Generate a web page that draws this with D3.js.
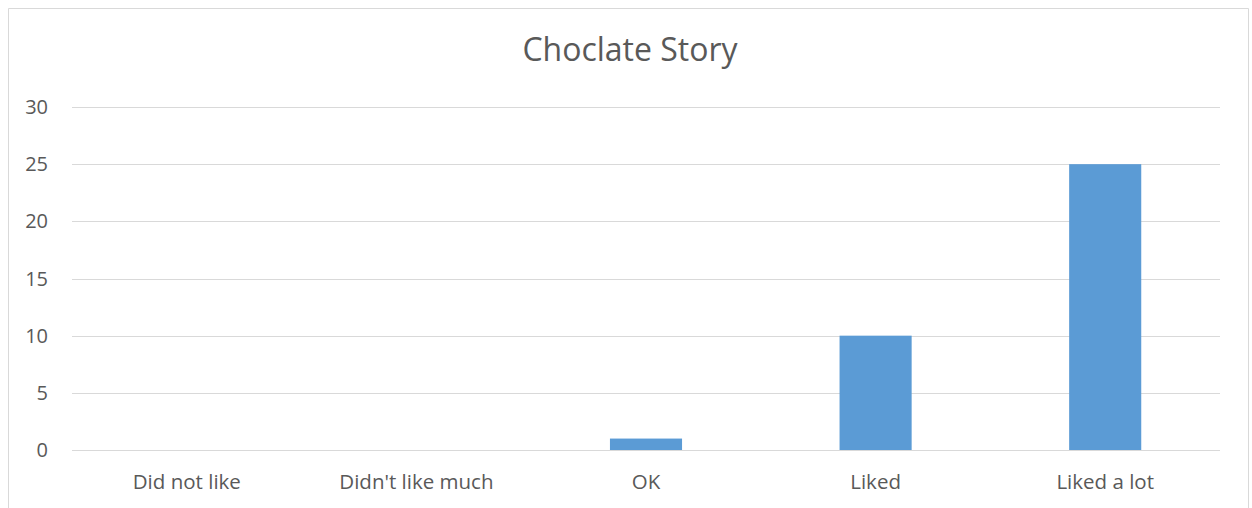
<!DOCTYPE html>
<html><head><meta charset="utf-8">
<script src="https://cdn.jsdelivr.net/npm/d3@7"></script>
<style>body{margin:0;background:#fff}svg{display:block}</style>
</head><body>
<svg id="c" width="1252" height="508"></svg>
<script>
const categories = ["Did not like", "Didn't like much", "OK", "Liked", "Liked a lot"];
const values = [0, 0, 1, 10, 25];
const yTicks = [0, 5, 10, 15, 20, 25, 30];
const title = "Choclate Story";

const svg = d3.select("#c");
const font = "'Open Sans', sans-serif";
const textColor = "#595959";
const margin = {left: 72, right: 1220, top: 107, bottom: 450};

// chart border
svg.append("path").attr("d", "M8.5,508 V8.5 H1248.5 V508")
  .attr("fill", "none").attr("stroke", "#d9d9d9").attr("stroke-width", 1);

const x = d3.scaleBand().domain(categories).range([margin.left, margin.right]).paddingInner(0.686).paddingOuter(0.343);
const y = d3.scaleLinear().domain([0, 30]).range([margin.bottom, margin.top]);

// grid
svg.append("g").selectAll("line").data(yTicks).join("line")
  .attr("x1", margin.left).attr("x2", margin.right)
  .attr("y1", d => Math.round(y(d)) + 0.5).attr("y2", d => Math.round(y(d)) + 0.5)
  .attr("stroke", "#d9d9d9").attr("stroke-width", 1);

// y labels
svg.append("g").selectAll("text").data(yTicks).join("text")
  .attr("x", 48).attr("y", d => y(d)).attr("dy", "0.35em")
  .attr("text-anchor", "end").attr("fill", textColor)
  .style("font-family", font).style("font-size", "20px").text(d => d);

// bars
svg.append("g").selectAll("rect").data(values).join("rect")
  .attr("x", (d, i) => x(categories[i]))
  .attr("width", x.bandwidth())
  .attr("y", d => y(d)).attr("height", d => y(0) - y(d))
  .attr("fill", "#5b9bd5");

// x labels
svg.append("g").selectAll("text").data(categories).join("text")
  .attr("x", d => x(d) + x.bandwidth() / 2).attr("y", 482).attr("dy", "0.35em")
  .attr("text-anchor", "middle").attr("fill", textColor)
  .style("font-family", font).style("font-size", "20.5px").text(d => d);

// title
svg.append("text").attr("x", 630).attr("y", 50).attr("dy", "0.35em")
  .attr("text-anchor", "middle").attr("fill", textColor)
  .style("font-family", font).style("font-size", "32px").text(title);
</script>
</body></html>
